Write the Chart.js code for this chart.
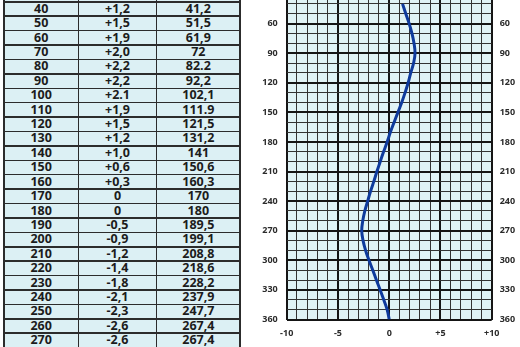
<!DOCTYPE html>
<html><head><meta charset="utf-8">
<script src="https://cdn.jsdelivr.net/npm/chart.js@4/dist/chart.umd.min.js"></script>
<style>
html,body{margin:0;padding:0;width:520px;height:347px;overflow:hidden;background:#fff;}
#tbl{position:absolute;left:0;top:0;width:242px;height:347px;overflow:hidden;}
.bg{position:absolute;left:4px;top:0;width:236px;height:347px;background:#dcf0f4;}
.hl{position:absolute;left:4px;width:237px;height:1.5px;background:#2c2c2c;}
.vl{position:absolute;top:0;width:1.5px;height:347px;background:#2c2c2c;}
.cell{position:absolute;height:14.41px;line-height:14.41px;text-align:center;font-family:"Open Sans",sans-serif;font-weight:700;font-size:12.5px;color:#1c1c1c;}
#wrap{position:absolute;left:260px;top:-50px;width:260px;height:400px;}
</style>
</head><body>
<div id="tbl"><div class="bg"></div></div>
<div id="wrap"><canvas id="c" width="260" height="400"></canvas></div>
<script>
// Table data
const headings = [40,50,60,70,80,90,100,110,120,130,140,150,160,170,180,190,200,210,220,230,240,250,260,270];
const deviations = ['+1,2','+1,5','+1,9','+2,0','+2,2','+2,2','+2.1','+1,9','+1,5','+1,2','+1,0','+0,6','+0,3','0','0','-0,5','-0,9','-1,2','-1,4','-1,8','-2,1','-2,3','-2,6','-2,6'];
const corrected = ['41,2','51,5','61,9','72','82.2','92,2','102,1','111.9','121,5','131,2','141','150,6','160,3','170','180','189,5','199,1','208,8','218,6','228,2','237,9','247,7','267,4','267,4'];

// Curve data
const curveHeadings = [40,50,60,70,80,90,100,110,120,130,140,150,160,170,180,190,200,210,220,230,240,250,260,270,280,290,300,310,320,330,340,350,360];
const curveDeviation = [1.3,1.62,1.95,2.22,2.42,2.52,2.38,2.1,1.85,1.55,1.22,0.85,0.48,0.12,-0.2,-0.55,-0.88,-1.2,-1.5,-1.82,-2.1,-2.38,-2.58,-2.68,-2.55,-2.3,-1.97,-1.6,-1.25,-0.88,-0.53,-0.2,0];

// Axis tick labels
const yTickLabels = [60,90,120,150,180,210,240,270,300,330,360];
const xTickValues = [-10,-5,0,5,10];
const xTickLabels = ['-10','-5','0','+5','+10'];

// Build table
const tbl = document.getElementById('tbl');
const rowTop = 1.8, rowH = 14.41;
const colX = [4,78.3,156.7,240];
for (let i=0;i<=headings.length;i++){
  const d=document.createElement('div');d.className='hl';d.style.top=(rowTop+i*rowH-0.75)+'px';tbl.appendChild(d);
}
colX.forEach(x=>{const d=document.createElement('div');d.className='vl';d.style.left=(x-0.75)+'px';tbl.appendChild(d);});
headings.forEach((h,i)=>{
  const vals=[String(h),deviations[i],corrected[i]];
  vals.forEach((t,j)=>{
    const d=document.createElement('div');d.className='cell';
    d.style.left=colX[j]+'px';d.style.width=(colX[j+1]-colX[j])+'px';
    d.style.top=(rowTop+i*rowH)+'px';d.textContent=t;tbl.appendChild(d);
  });
});

const bgPlugin={id:'bg',beforeDraw(chart){const a=chart.chartArea,c=chart.ctx;c.save();c.fillStyle='#e0f3f6';c.fillRect(a.left,a.top,a.right-a.left,a.bottom-a.top);c.restore();}};
const tickFont={family:'"Open Sans", sans-serif',size:9,weight:'bold'};
const thick='#151515', thin='#333333';

new Chart(document.getElementById('c'),{
  type:'line',
  data:{datasets:[{
    data:curveHeadings.map((h,i)=>({x:curveDeviation[i],y:h})),
    borderColor:'#0e3a9c',borderWidth:3,pointRadius:0,tension:0.4,fill:false
  }]},
  options:{
    responsive:false,animation:false,
    layout:{padding:{top:7,left:0,right:0,bottom:0}},
    plugins:{legend:{display:false},tooltip:{enabled:false}},
    scales:{
      x:{type:'linear',position:'bottom',min:-10,max:10,
        ticks:{stepSize:1,maxTicksLimit:100,autoSkip:false,maxRotation:0,padding:9,color:'#2b2b2b',font:tickFont,
          callback:v=>{const k=xTickValues.indexOf(v);return k>=0?xTickLabels[k]:'';}},
        grid:{drawTicks:false,color:c=>(c.tick&&c.tick.value%5===0)?thick:thin,lineWidth:c=>(c.tick&&c.tick.value%5===0)?2:1},
        border:{display:false},
        afterFit(s){s.height=30.5;}},
      y:{type:'linear',position:'left',reverse:true,min:0,max:360,
        ticks:{stepSize:10,maxTicksLimit:100,autoSkip:false,padding:9,color:'#2b2b2b',font:tickFont,
          callback:v=>yTickLabels.includes(v)?String(v):''},
        grid:{drawTicks:false,color:c=>(c.tick&&c.tick.value%30===0)?thick:thin,lineWidth:c=>(c.tick&&c.tick.value%30===0)?2:1},
        border:{display:false},
        afterFit(s){s.width=26.7;}},
      y2:{type:'linear',position:'right',reverse:true,min:0,max:360,
        ticks:{stepSize:10,maxTicksLimit:100,autoSkip:false,padding:8,color:'#2b2b2b',font:tickFont,
          callback:v=>yTickLabels.includes(v)?String(v):''},
        grid:{display:false,drawTicks:false},
        border:{display:false},
        afterFit(s){s.width=28.3;}}
    }
  },
  plugins:[bgPlugin]
});
</script>
</body></html>
